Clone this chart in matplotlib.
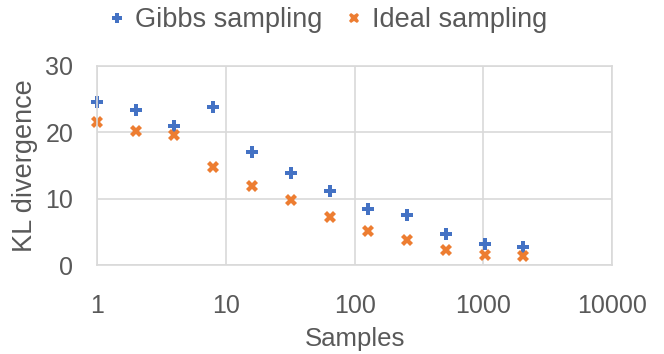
import numpy as np
import matplotlib
matplotlib.use("Agg")
import matplotlib.pyplot as plt
from matplotlib.ticker import FixedLocator, FixedFormatter, NullLocator

plt.rcParams['font.family'] = ['Liberation Sans', 'DejaVu Sans']

samples = [1, 2, 4, 8, 16, 32, 64, 128, 256, 512, 1024, 2048]
gibbs = [24.6, 23.4, 20.9, 23.8, 17.1, 13.9, 11.1, 8.4, 7.5, 4.7, 3.2, 2.7]
ideal = [21.5, 20.2, 19.6, 14.8, 11.9, 9.8, 7.3, 5.2, 3.8, 2.3, 1.6, 1.4]
xticks = [1, 10, 100, 1000, 10000]
yticks = [0, 10, 20, 30]

text_color = '#595959'
grid_color = '#d9d9d9'

fig = plt.figure(figsize=(6.64, 3.54), dpi=100)
ax = fig.add_axes([0.146, 0.251, 0.776, 0.563])

ax.plot(samples, gibbs, linestyle='none', marker='P', markersize=8,
        color='#4472C4', markeredgewidth=0, label='Gibbs sampling', clip_on=False)
ax.plot(samples, ideal, linestyle='none', marker='X', markersize=9,
        color='#ED7D31', markeredgewidth=0, label='Ideal sampling', clip_on=False)

ax.set_xscale('log')
ax.set_xlim(1, 10000)
ax.set_ylim(0, 30)
ax.xaxis.set_major_locator(FixedLocator(xticks))
ax.xaxis.set_major_formatter(FixedFormatter([str(t) for t in xticks]))
ax.xaxis.set_minor_locator(NullLocator())
ax.set_yticks(yticks)

ax.grid(True, color=grid_color, linewidth=1.2)
ax.set_axisbelow(True)
for s in ax.spines.values():
    s.set_color(grid_color)
    s.set_linewidth(1.2)
ax.tick_params(length=0, labelsize=18, labelcolor=text_color)
ax.tick_params(axis='x', pad=21)
ax.tick_params(axis='y', pad=17)

ax.set_xlabel('Samples', fontsize=18.5, color=text_color, labelpad=6)
ax.set_ylabel('KL divergence', fontsize=19.5, color=text_color, labelpad=5)

fig.legend(loc='center', bbox_to_anchor=(0.49, 1 - 20 / 354), ncol=2, frameon=False,
           fontsize=19.5, labelcolor=text_color, handletextpad=0.15, columnspacing=0.7,
           markerscale=0.85, handlelength=1.0)

fig.savefig('out.png', dpi=100)
